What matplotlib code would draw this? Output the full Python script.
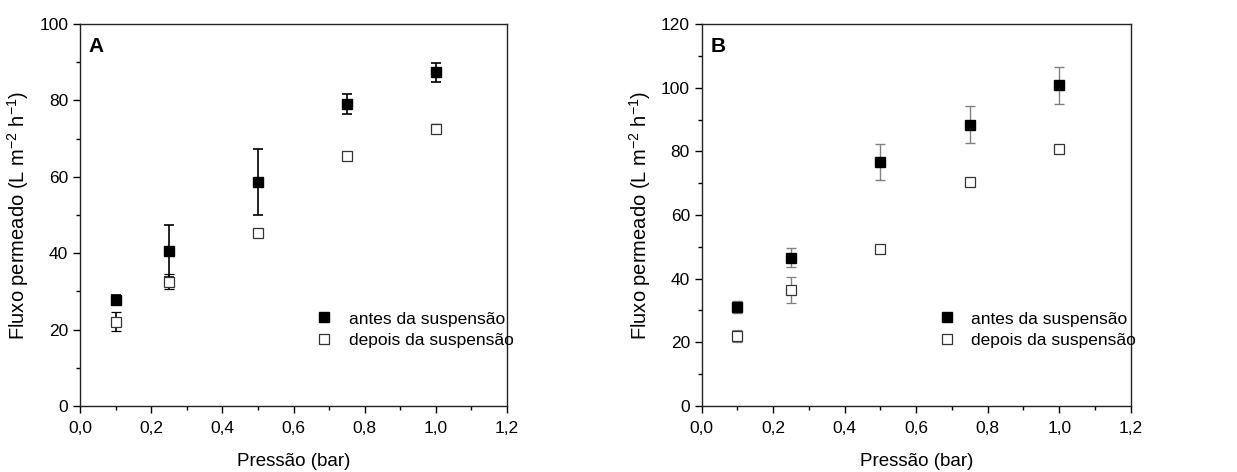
import matplotlib
matplotlib.use("Agg")
import matplotlib.pyplot as plt
from matplotlib.lines import Line2D
from matplotlib.ticker import MultipleLocator, FuncFormatter

plt.rcParams['font.family'] = ['Liberation Sans', 'DejaVu Sans']

pressure = [0.1, 0.25, 0.5, 0.75, 1.0]

# Panel A
a_before = [27.7, 40.6, 58.7, 79.0, 87.4]
a_before_err = [1.3, 6.8, 8.6, 2.6, 2.5]
a_after = [22.0, 32.5, 45.2, 65.5, 72.6]
a_after_err = [2.5, 2.0, 0.8, 0.8, 1.2]

# Panel B
b_before = [31.0, 46.6, 76.6, 88.4, 100.7]
b_before_err = [1.9, 3.0, 5.7, 5.8, 5.9]
b_after = [22.0, 36.4, 49.3, 70.3, 80.6]
b_after_err = [1.9, 4.1, 0.6, 1.0, 0.8]

labels = ["antes da suspensão", "depois da suspensão"]
panel_names = ["A", "B"]
y_limits = [100, 120]

fig = plt.figure(figsize=(12.37, 4.72), dpi=100)
ax_a = fig.add_axes([0.0647, 0.140, 0.3452, 0.809])
ax_b = fig.add_axes([0.5673, 0.140, 0.3468, 0.809])

comma = FuncFormatter(lambda v, p: f"{v:.1f}".replace(".", ","))

panels = [
    (ax_a, a_before, a_before_err, a_after, a_after_err, 'black', 1.2),
    (ax_b, b_before, b_before_err, b_after, b_after_err, '#808080', 1.0),
]

filled_style = dict(marker='s', color='black', ms=6.5, ls='none')
open_style = dict(marker='s', color='black', ms=6.5, mfc='white',
                  mec='#333333', mew=0.9, ls='none')

for i, (ax, yb, eb, ya, ea, ecol, elw) in enumerate(panels):
    ax.errorbar(pressure, yb, yerr=eb, ecolor=ecol, elinewidth=elw,
                capsize=3.5, capthick=elw, zorder=3, **filled_style)
    ax.errorbar(pressure, ya, yerr=ea, ecolor=ecol, elinewidth=elw,
                capsize=3.5, capthick=elw, zorder=3, **open_style)
    ax.set_xlim(0, 1.2)
    ax.set_ylim(0, y_limits[i])
    ax.xaxis.set_major_locator(MultipleLocator(0.2))
    ax.xaxis.set_minor_locator(MultipleLocator(0.1))
    ax.yaxis.set_major_locator(MultipleLocator(20))
    ax.yaxis.set_minor_locator(MultipleLocator(10))
    ax.xaxis.set_major_formatter(comma)
    ax.tick_params(which='major', direction='out', length=5, width=1.0,
                   labelsize=12.5, top=False, right=False)
    ax.tick_params(axis='x', which='major', pad=6)
    ax.tick_params(which='minor', direction='out', length=3, width=1.0,
                   top=False, right=False)
    for s in ax.spines.values():
        s.set_linewidth(1.0)
        s.set_color('#222222')
    ax.set_xlabel("Pressão (bar)", fontsize=13.5, labelpad=12)
    ax.set_ylabel(r"Fluxo permeado (L m$^{\mathregular{-2}}$ h$^{\mathregular{-1}}$)",
                  fontsize=14.5, labelpad=6)
    ax.text(0.02, 0.94, panel_names[i], transform=ax.transAxes,
            fontsize=15, fontweight='bold', va='center', ha='left')
    handles = [Line2D([], [], **filled_style), Line2D([], [], **open_style)]
    ax.legend(handles=handles, labels=labels, loc='center left',
              bbox_to_anchor=(0.515, 0.20), frameon=False, fontsize=12.5,
              handlelength=1.0, handletextpad=0.9, labelspacing=0.35)

fig.savefig("out.png", dpi=100)
